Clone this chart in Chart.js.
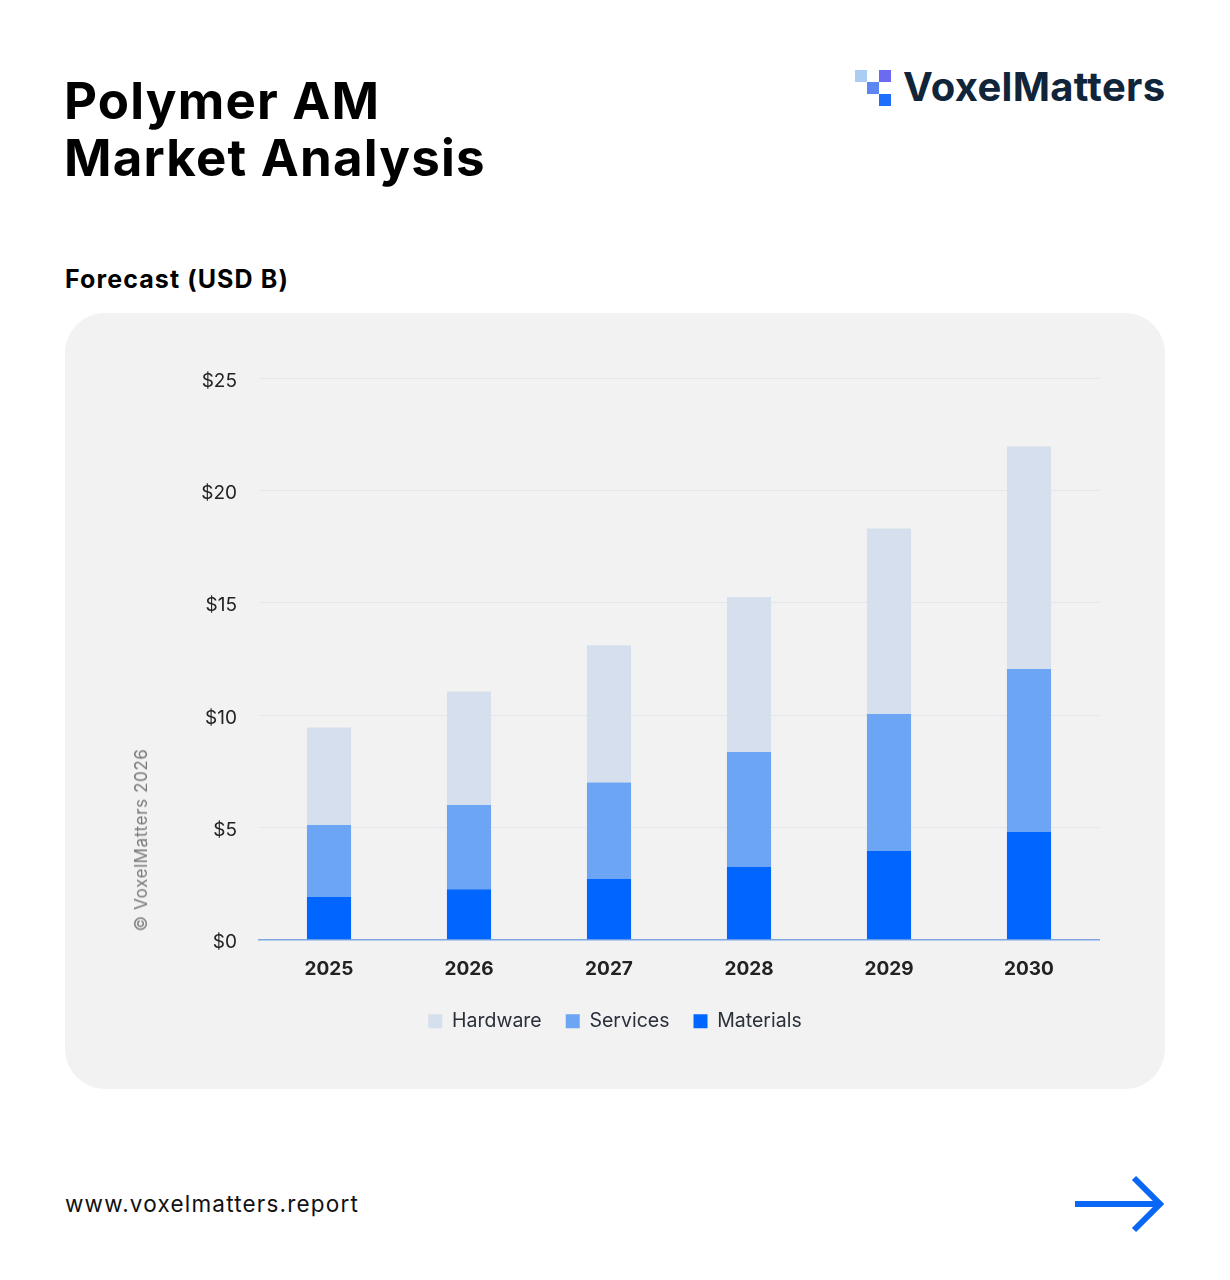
<!DOCTYPE html>
<html>
<head>
<meta charset="utf-8">
<title>Polymer AM Market Analysis</title>
<script src="https://cdn.jsdelivr.net/npm/chart.js@4.4.1/dist/chart.umd.min.js"></script>
<style>
    html, body { margin: 0; padding: 0; background: #fff; }
    body { width: 1230px; height: 1280px; position: relative; font-family: Inter, "Open Sans", sans-serif; color: #000; }
    .title { position: absolute; left: 64px; top: 72px; font-size: 51px; font-weight: 700; line-height: 57px; letter-spacing: 1.2px; }
    .subtitle { position: absolute; left: 65px; top: 264px; font-size: 25px; font-weight: 700; letter-spacing: 1.1px; }
    .logo { position: absolute; left: 854px; top: 66px; width: 320px; height: 46px; }
    .logo .sq { position: absolute; width: 12px; height: 12px; }
    .logo .word { position: absolute; left: 49px; top: -4px; font-size: 40px; font-weight: 700; color: #10243a; letter-spacing: 0.3px; }
    .card { position: absolute; left: 65px; top: 313px; width: 1100px; height: 776px; background: #f2f2f2; border-radius: 40px; }
    .chart-box { position: absolute; left: 0; top: 0; width: 1100px; height: 776px; }
    .watermark { position: absolute; left: 141px; top: 840px; transform: translate(-50%, -50%) rotate(-90deg); font-size: 17px; letter-spacing: 0.6px; color: #777; white-space: nowrap; }
    .footer { position: absolute; left: 65px; top: 1190px; font-size: 22.5px; letter-spacing: 1.2px; color: #111; }
    .arrow { position: absolute; left: 1072px; top: 1172px; }
</style>
</head>
<body>
<div class="title">Polymer AM<br>Market Analysis</div>
<div class="logo">
    <div class="sq" style="left:1px;top:4px;background:#a9cdf3;"></div>
    <div class="sq" style="left:25px;top:4px;background:#6d6af2;"></div>
    <div class="sq" style="left:13px;top:16px;background:#5b86f4;"></div>
    <div class="sq" style="left:25px;top:28px;background:#1f6dfb;"></div>
    <div class="word">VoxelMatters</div>
</div>
<div class="subtitle">Forecast (USD B)</div>
<div class="card">
    <div class="chart-box"><canvas id="chart"></canvas></div>
</div>
<div class="watermark">© VoxelMatters 2026</div>
<div class="footer">www.voxelmatters.report</div>
<svg class="arrow" width="96" height="64" viewBox="0 0 96 64">
    <path d="M3 32 H88 M62 6 L88 32 L62 58" fill="none" stroke="#0a66f5" stroke-width="6"/>
</svg>

<script>
// Forecast data (USD B)
const years = ['2025', '2026', '2027', '2028', '2029', '2030'];
const materials = [1.9, 2.25, 2.7, 3.25, 3.95, 4.8];
const services = [3.2, 3.75, 4.3, 5.1, 6.1, 7.25];
const hardware = [4.35, 5.05, 6.1, 6.9, 8.25, 9.9];
const yTicks = [0, 5, 10, 15, 20, 25];

document.addEventListener('DOMContentLoaded', function() {
    createForecastChart('chart');
});

function createForecastChart(canvasId) {
    const ctx = document.getElementById(canvasId).getContext('2d');

    const data = {
        labels: years,
        datasets: [
            {
                label: 'Materials',
                data: materials,
                backgroundColor: '#0066ff'
            },
            {
                label: 'Services',
                data: services,
                backgroundColor: '#6ba5f4'
            },
            {
                label: 'Hardware',
                data: hardware,
                backgroundColor: '#d5dfed'
            }
        ]
    };

    const config = {
        type: 'bar',
        data: data,
        options: {
            responsive: true,
            maintainAspectRatio: false,
            animation: false,
            barPercentage: 0.315,
            categoryPercentage: 1,
            layout: {
                // symmetric sides so the legend sits centred in the card
                padding: { top: 65, right: 66, bottom: 48, left: 66 }
            },
            plugins: {
                legend: {
                    position: 'bottom',
                    reverse: true,
                    labels: {
                        boxWidth: 14,
                        boxHeight: 14,
                        padding: 24,
                        color: '#2a2f3a',
                        font: { family: 'Inter', size: 19.5 }
                    }
                },
                tooltip: { enabled: false }
            },
            scales: {
                x: {
                    stacked: true,
                    afterFit: function(scale) { scale.height -= 11; },
                    grid: { display: false, drawTicks: false },
                    border: { color: '#7ea6e3', width: 1.5 },
                    ticks: {
                        padding: 18,
                        color: '#222',
                        font: { family: 'Inter', size: 19, weight: '700' }
                    }
                },
                y: {
                    stacked: true,
                    min: 0,
                    max: 25,
                    afterFit: function(scale) { scale.width = 128; },
                    afterBuildTicks: function(scale) {
                        scale.ticks = yTicks.map(v => ({ value: v }));
                    },
                    grid: { color: '#e3e6ec', drawTicks: false },
                    border: { display: false },
                    ticks: {
                        padding: 22,
                        labelOffset: 3,
                        color: '#222',
                        font: { family: 'Inter', size: 19 },
                        callback: v => '$' + v
                    }
                }
            }
        }
    };

    new Chart(ctx, config);
}
</script>
</body>
</html>
